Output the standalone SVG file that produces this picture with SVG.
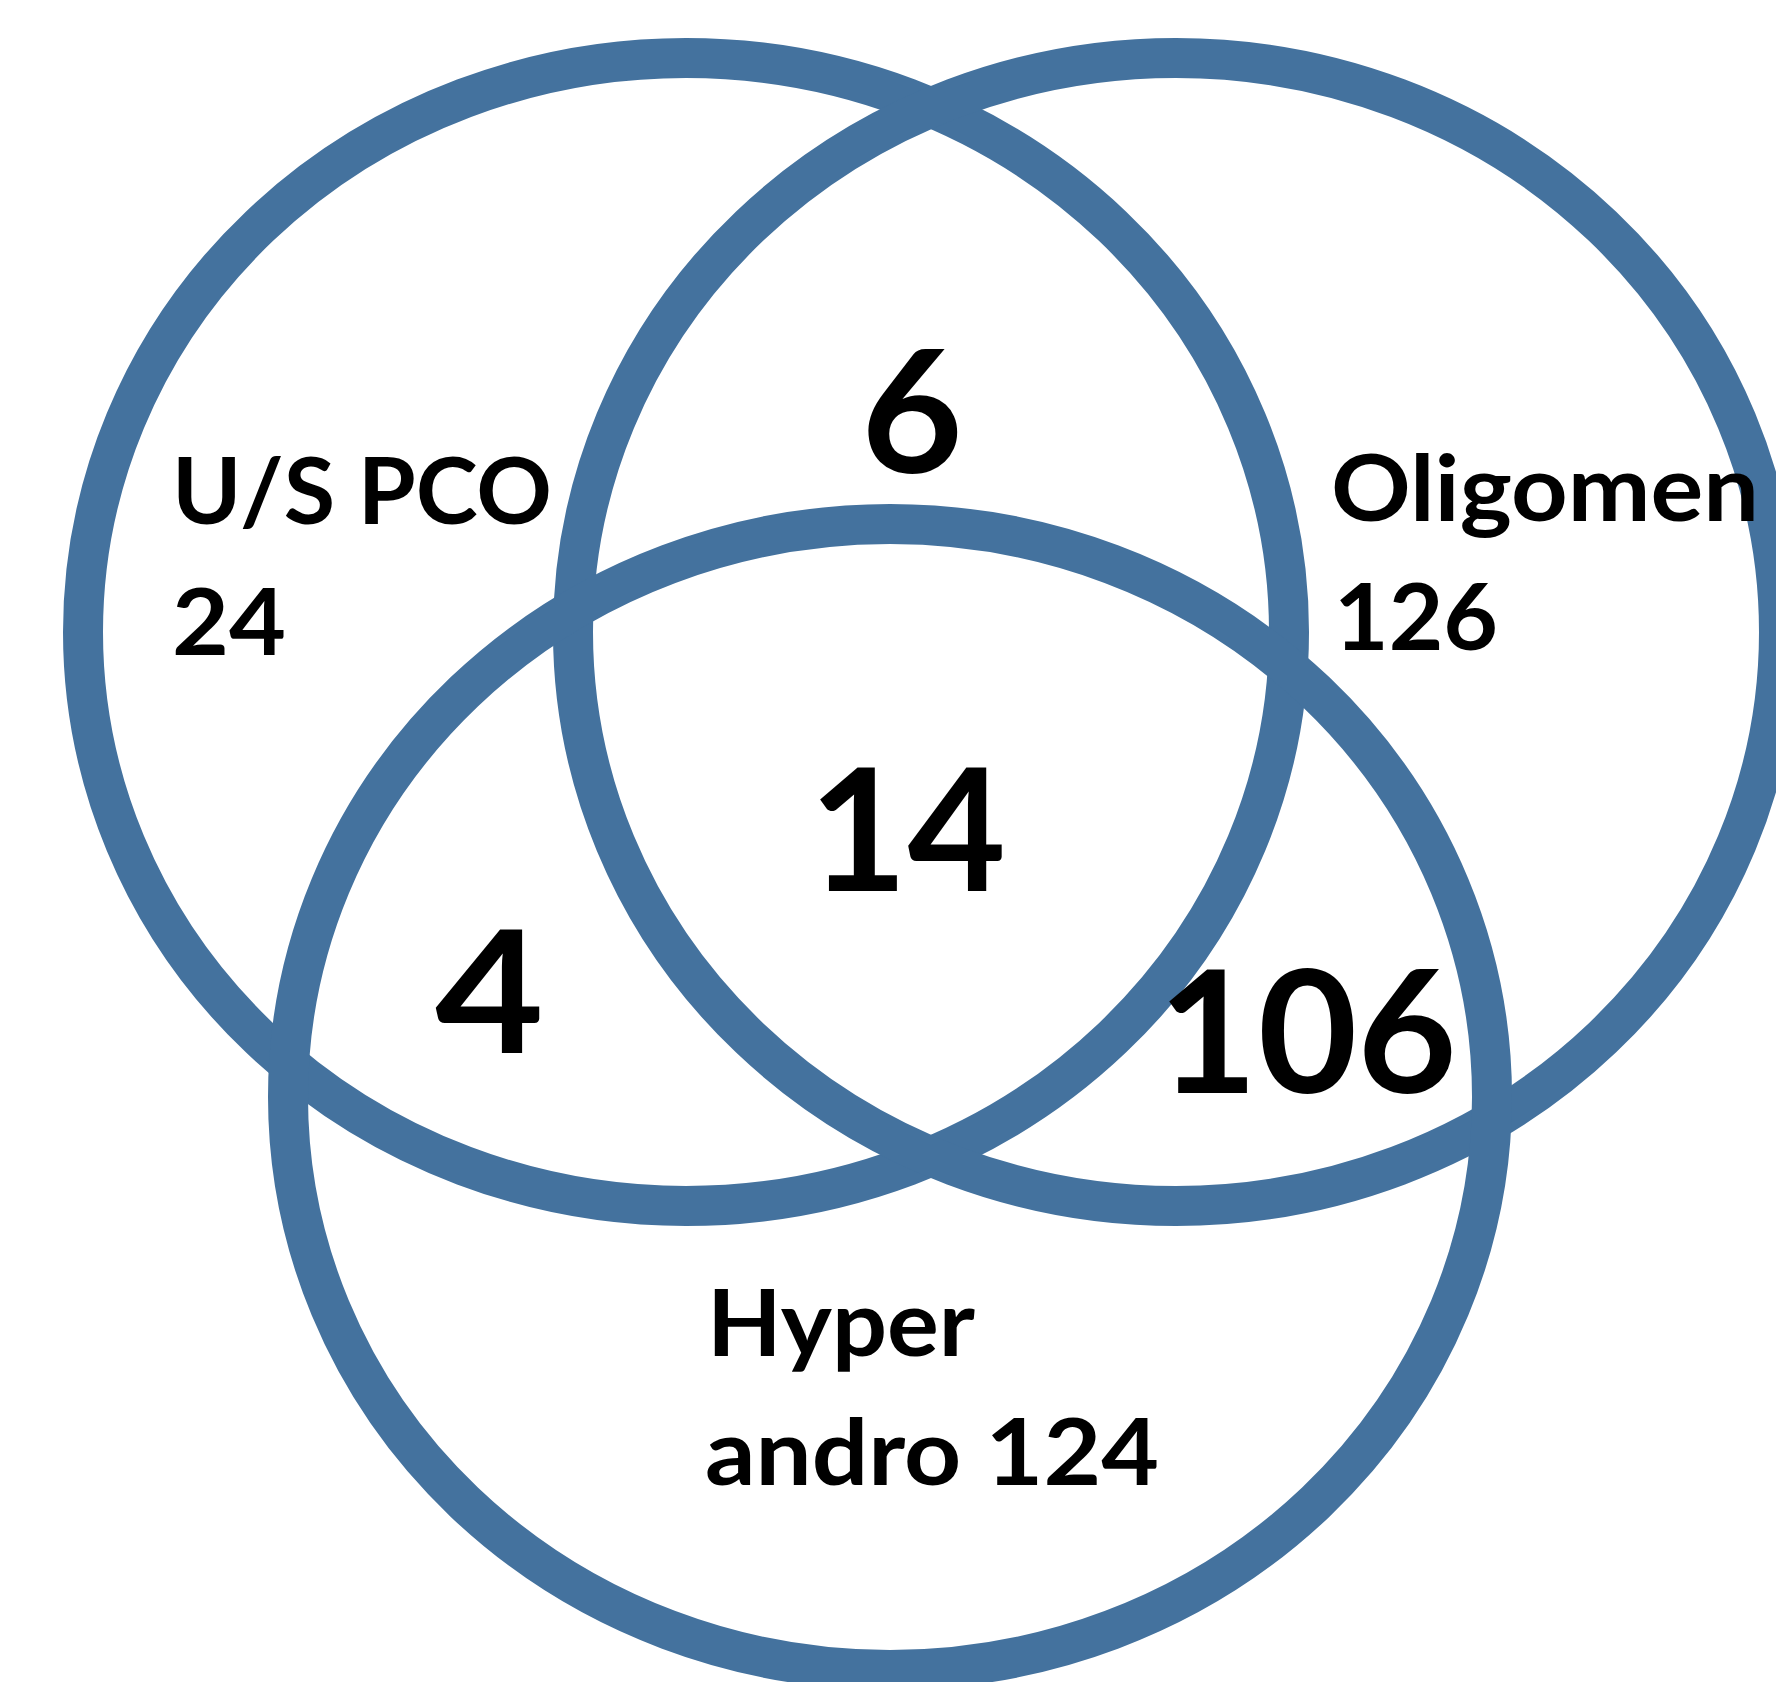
<svg xmlns="http://www.w3.org/2000/svg" width="1776" height="1682" viewBox="0 0 1776 1682">
<style>
.set{fill:none;stroke:#44729E;stroke-width:40}
.lbl{font-family:Lato,"Open Sans","Liberation Sans",sans-serif;font-weight:bold;font-size:92px;fill:#000}
.num{font-family:Lato,"Open Sans","Liberation Sans",sans-serif;font-weight:bold;font-size:170px;fill:#000}
</style>
<rect width="1776" height="1682" fill="#fff"/>
<g id="set-uspco">
<ellipse class="set" cx="686" cy="632" rx="603" ry="574"/>
</g>
<g id="set-oligomen">
<ellipse class="set" cx="1176" cy="632" rx="603" ry="574"/>
</g>
<g id="set-hyperandro">
<ellipse class="set" cx="890" cy="1097" rx="602" ry="573"/>
</g>
<g id="labels">
<text class="lbl" x="172" y="524" textLength="380" lengthAdjust="spacingAndGlyphs">U/S PCO</text>
<text class="lbl" x="172" y="655" textLength="114" lengthAdjust="spacingAndGlyphs">24</text>
<text class="lbl" x="1331" y="521" textLength="428" lengthAdjust="spacingAndGlyphs">Oligomen</text>
<text class="lbl" x="1334" y="650" textLength="164" lengthAdjust="spacingAndGlyphs">126</text>
<text class="lbl" x="707" y="1356" textLength="268" lengthAdjust="spacingAndGlyphs">Hyper</text>
<text class="lbl" x="705" y="1485" textLength="454" lengthAdjust="spacingAndGlyphs">andro 124</text>
</g>
<g id="counts">
<text class="num" x="861" y="473" textLength="102" lengthAdjust="spacingAndGlyphs">6</text>
<text class="num" x="809" y="891" textLength="197" lengthAdjust="spacingAndGlyphs">14</text>
<text class="num" x="435" y="1053" textLength="109" lengthAdjust="spacingAndGlyphs">4</text>
<text class="num" x="1158" y="1093" textLength="299" lengthAdjust="spacingAndGlyphs">106</text>
</g>
</svg>
